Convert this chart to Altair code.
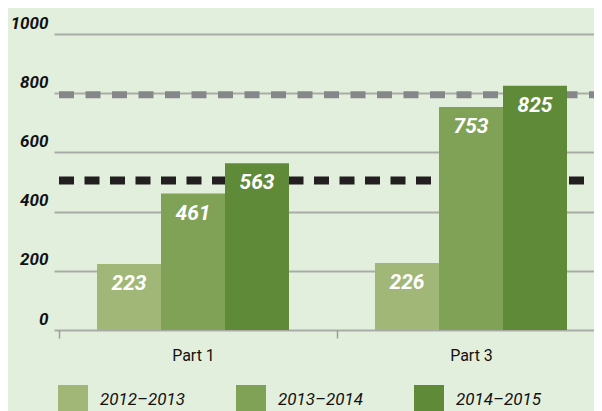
import altair as alt
import pandas as pd

parts = ["Part 1", "Part 3"]
periods = ["2012–2013", "2013–2014", "2014–2015"]
part1_values = [223, 461, 563]
part3_values = [226, 753, 825]
period_colors = ["#a0b777", "#80a257", "#5f8a38"]
gray_line_value = [795]
black_line_value = [505]
y_ticks = [0, 200, 400, 600, 800, 1000]

rows = []
for part, vals in zip(parts, [part1_values, part3_values]):
    for p, v in zip(periods, vals):
        rows.append({"part": part, "period": p, "value": v})
df = pd.DataFrame(rows)

FONT = "Roboto, Liberation Sans, sans-serif"

x = alt.X(
    "part:N", sort=parts,
    scale=alt.Scale(range=[42, 598], paddingInner=0, paddingOuter=0),
    axis=alt.Axis(title=None, domain=False, tickColor="#9a9a9a", tickWidth=1.5,
                  tickSize=8, tickOffset=-134, labelOffset=134, labelAngle=0,
                  labelFont=FONT, labelFontSize=16, labelColor="#111111",
                  labelPadding=9),
)
xoff = alt.XOffset("period:N", sort=periods,
                   scale=alt.Scale(paddingInner=0, paddingOuter=0.672))
y = alt.Y(
    "value:Q",
    scale=alt.Scale(domain=[0, 1000], nice=False),
    axis=alt.Axis(values=y_ticks, format="d", title=None, domain=False, ticks=False,
                  grid=True, gridColor="#a9aba6", gridWidth=2, labelAlign="right",
                  labelPadding=-36, labelBaseline="alphabetic", labelOffset=-6,
                  labelFont=FONT, labelFontSize=17, labelFontStyle="italic",
                  labelFontWeight="bold", labelColor="#111111"),
)

gray_rule = alt.Chart(pd.DataFrame({"value": gray_line_value})).mark_rule(
    color="#86878b", strokeWidth=7, strokeDash=[15, 11.5]
).encode(y=y, x=alt.value(47), x2=alt.value(582))

black_rule = alt.Chart(pd.DataFrame({"value": black_line_value})).mark_rule(
    color="#231f20", strokeWidth=8, strokeDash=[15, 10.5]
).encode(y=y, x=alt.value(47), x2=alt.value(582))

color = alt.Color(
    "period:N", sort=periods,
    scale=alt.Scale(domain=periods, range=period_colors),
    legend=alt.Legend(title=None, orient="none", legendX=46, legendY=351,
                      direction="horizontal", symbolType="square", symbolSize=900,
                      symbolStrokeWidth=0, symbolOpacity=1, labelFont=FONT,
                      labelFontSize=17, labelFontStyle="italic",
                      labelColor="#111111", labelOffset=12, columnPadding=50,
                      padding=0),
)

base = alt.Chart(df)
bars = base.mark_bar(strokeWidth=0).encode(x=x, xOffset=xoff, y=y, color=color)
labels = base.mark_text(color="white", font=FONT, fontSize=21, fontStyle="italic",
                        fontWeight="bold", baseline="alphabetic", dy=26).encode(
    x=x, xOffset=xoff, y=y, text="value:Q")

chart = alt.layer(gray_rule, black_rule, bars, labels).properties(
    width=582, height=296,
    autosize=alt.AutoSizeParams(type="none"),
    padding={"left": 4, "top": 26, "right": 0, "bottom": 81},
).configure(background="#e3efdd").configure_view(stroke=None)

chart.save("out.html", embed_options={"renderer": "svg", "actions": False})
